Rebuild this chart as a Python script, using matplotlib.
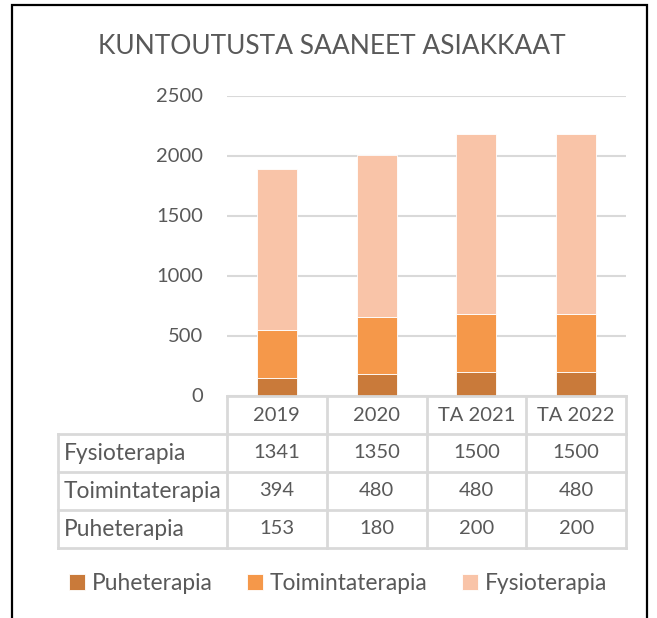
import matplotlib
matplotlib.use("Agg")
import matplotlib.pyplot as plt
from matplotlib.patches import Rectangle
import numpy as np

plt.rcParams['font.family'] = ['Lato', 'DejaVu Sans']

title = "KUNTOUTUSTA SAANEET ASIAKKAAT"
years = ["2019", "2020", "TA 2021", "TA 2022"]
puhe = [153, 180, 200, 200]
toiminta = [394, 480, 480, 480]
fysio = [1341, 1350, 1500, 1500]
series = ["Puheterapia", "Toimintaterapia", "Fysioterapia"]
colors = ["#C97A3A", "#F5984A", "#F9C4A8"]

W, H = 657, 618
txt = "#595959"
grid = "#D9D9D9"
fig = plt.figure(figsize=(W / 100, H / 100), dpi=100)

# pixel -> figure fraction helper
def box(x0, y0, x1, y1):
    return [x0 / W, 1 - y1 / H, (x1 - x0) / W, (y1 - y0) / H]

ax = fig.add_axes(box(227, 96, 626, 396))
x = np.arange(len(years))
bottom = np.zeros(len(years))
bars = []
for vals, c, name in zip([puhe, toiminta, fysio], colors, series):
    b = ax.bar(x, vals, 0.4, bottom=bottom, color=c, label=name,
               edgecolor="white", linewidth=0.6, zorder=3)
    bars.append(b)
    bottom += np.array(vals)

ax.set_xlim(-0.5, 3.5)
ax.set_ylim(0, 2500)
ax.set_yticks(range(0, 2501, 500))
ax.yaxis.grid(True, color=grid, linewidth=1.5)
ax.set_xticks([])
for s in ax.spines.values():
    s.set_visible(False)
ax.tick_params(axis="y", length=0, pad=17, labelsize=14.5, labelcolor=txt)
for lab in ax.get_yticklabels():
    lab.set_verticalalignment("center")

# data table under the plot
tab = fig.add_axes(box(227, 396, 626, 548))
tab.set_xlim(-0.5, 3.5)
tab.set_ylim(4, 0)
tab.axis("off")
left = -0.5 - (227 - 58) / 100
lk = dict(color=grid, linewidth=2, clip_on=False)
tab.plot([-0.5, 3.5], [0, 0], **lk)
for r in [1, 2, 3, 4]:
    tab.plot([left, 3.5], [r, r], **lk)
for cx in [-0.5, 0.5, 1.5, 2.5, 3.5]:
    tab.plot([cx, cx], [0, 4], **lk)
tab.plot([left, left], [1, 4], **lk)

fs = 14.5     # numbers
fw = 16.4     # words
for i, y in enumerate(years):
    tab.text(i, 0.52, y, ha="center", va="center", fontsize=fs, color=txt)
rows = [("Fysioterapia", fysio), ("Toimintaterapia", toiminta), ("Puheterapia", puhe)]
for r, (name, vals) in enumerate(rows, start=1):
    tab.text(left + 0.05, r + 0.5, name, ha="left", va="center",
             fontsize=fw, color=txt, clip_on=False)
    for i, v in enumerate(vals):
        tab.text(i, r + 0.5, str(v), ha="center", va="center",
                 fontsize=fs, color=txt)

fig.text(332 / W, 1 - 46 / H, title, ha="center", va="center",
         fontsize=19, color=txt)

fig.legend(handles=bars, labels=series, loc="center", ncol=3,
           bbox_to_anchor=(338 / W, 1 - 583 / H), frameon=False,
           fontsize=fw, labelcolor=txt, handlelength=0.7, handleheight=0.7,
           handletextpad=0.3, columnspacing=1.5)

fig.patches.append(Rectangle((12 / W, -0.05), (647 - 12) / W, (1 - 5 / H) + 0.05,
                             transform=fig.transFigure, fill=False,
                             edgecolor="black", linewidth=1.6))

fig.savefig("out.png", dpi=100)
